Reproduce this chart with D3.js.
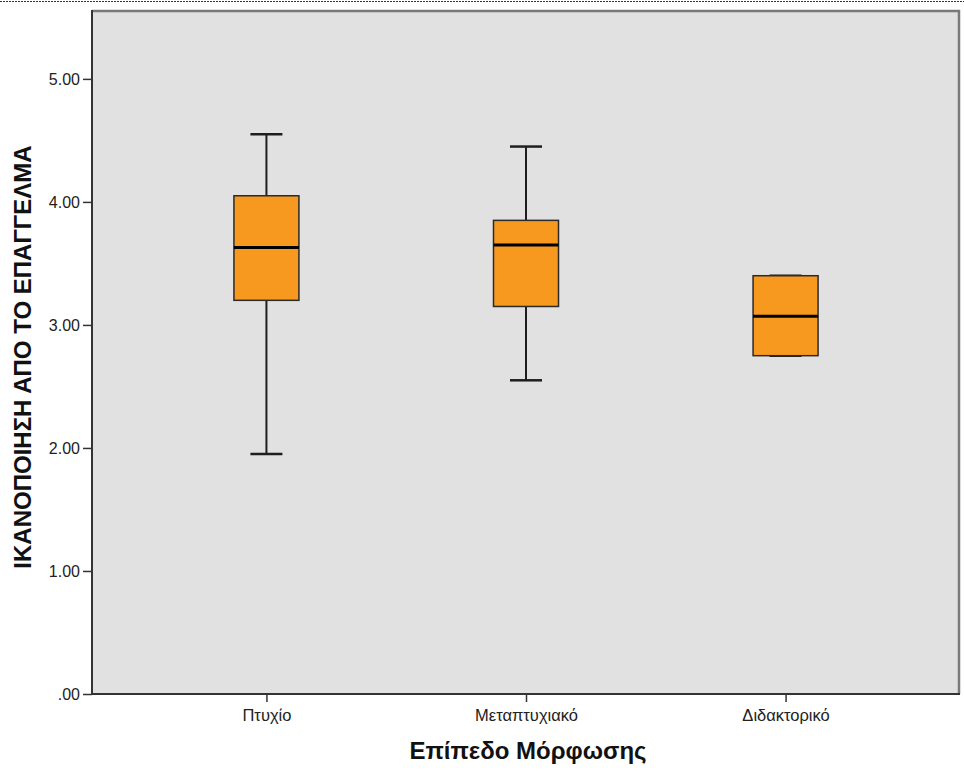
<!DOCTYPE html>
<html>
<head>
<meta charset="utf-8">
<script src="https://cdn.jsdelivr.net/npm/d3@7"></script>
<style>
  html, body { margin: 0; padding: 0; background: #ffffff; }
  svg { display: block; }
  text { font-family: Arial, "Liberation Sans", sans-serif; }
</style>
</head>
<body>
<svg id="chart" width="964" height="771"></svg>
<script>
// Education level categories and the five-number summary for each group
const categories = ["Πτυχίο", "Μεταπτυχιακό", "Διδακτορικό"];
const whiskerLow  = [1.95, 2.55, 2.75];
const q1          = [3.20, 3.15, 2.75];
const median      = [3.63, 3.65, 3.07];
const q3          = [4.05, 3.85, 3.40];
const whiskerHigh = [4.55, 4.45, 3.40];

const yTicks = [0, 1, 2, 3, 4, 5];
const yDomainMax = 5.56;
const xTitle = "Επίπεδο Μόρφωσης";
const yTitle = "ΙΚΑΝΟΠΟΙΗΣΗ ΑΠΟ ΤΟ ΕΠΑΓΓΕΛΜΑ";

const svg = d3.select("#chart");
const plot = { left: 92, right: 960, top: 10, bottom: 694 };

const x = d3.scalePoint()
  .domain(categories)
  .range([plot.left, plot.right])
  .padding(0.672);

const y = d3.scaleLinear()
  .domain([0, yDomainMax])
  .range([plot.bottom, plot.top]);

const boxW = 65, capW = 32;

// dotted rule along the top of the page
svg.append("line")
  .attr("x1", 0).attr("x2", 964)
  .attr("y1", 1.5).attr("y2", 1.5)
  .attr("stroke", "#333")
  .attr("stroke-width", 1)
  .attr("stroke-dasharray", "2,1");

// plot background
svg.append("rect")
  .attr("x", plot.left).attr("y", plot.top)
  .attr("width", plot.right - plot.left)
  .attr("height", plot.bottom - plot.top)
  .attr("fill", "#e1e1e1");

// frame: top and right edges
svg.append("path")
  .attr("d", `M${plot.left},${plot.top + 1}H${plot.right - 1}V${plot.bottom}`)
  .attr("fill", "none")
  .attr("stroke", "#7a7a7a")
  .attr("stroke-width", 2.5);

const rows = categories.map((c, i) => ({
  cat: c, lo: whiskerLow[i], q1: q1[i], med: median[i], q3: q3[i], hi: whiskerHigh[i]
}));

const g = svg.append("g");

// whiskers
g.selectAll(".whisker")
  .data(rows)
  .join("line")
  .attr("x1", d => x(d.cat)).attr("x2", d => x(d.cat))
  .attr("y1", d => y(d.hi)).attr("y2", d => y(d.lo))
  .attr("stroke", "#1e1e1e").attr("stroke-width", 2);

// whisker caps
["lo", "hi"].forEach(k => {
  g.selectAll(".cap-" + k)
    .data(rows)
    .join("line")
    .attr("x1", d => x(d.cat) - capW / 2).attr("x2", d => x(d.cat) + capW / 2)
    .attr("y1", d => y(d[k])).attr("y2", d => y(d[k]))
    .attr("stroke", "#1e1e1e").attr("stroke-width", 2.5);
});

// boxes
g.selectAll(".box")
  .data(rows)
  .join("rect")
  .attr("x", d => x(d.cat) - boxW / 2)
  .attr("y", d => y(d.q3))
  .attr("width", boxW)
  .attr("height", d => y(d.q1) - y(d.q3))
  .attr("fill", "#f7991f")
  .attr("stroke", "#2a2a2a")
  .attr("stroke-width", 1.5);

// medians
g.selectAll(".median")
  .data(rows)
  .join("line")
  .attr("x1", d => x(d.cat) - boxW / 2).attr("x2", d => x(d.cat) + boxW / 2)
  .attr("y1", d => y(d.med)).attr("y2", d => y(d.med))
  .attr("stroke", "#000").attr("stroke-width", 3);

// y axis
const yAxis = svg.append("g")
  .attr("transform", `translate(${plot.left},0)`)
  .call(d3.axisLeft(y).tickValues(yTicks).tickSize(9).tickPadding(3)
    .tickFormat(d => d3.format(".2f")(d).replace(/^0\./, ".")));
yAxis.select(".domain").attr("stroke", "#333").attr("stroke-width", 2)
  .attr("d", `M0,${plot.top}V${plot.bottom}`);
yAxis.selectAll(".tick line").attr("stroke", "#333").attr("stroke-width", 1.5);
yAxis.selectAll(".tick text").attr("fill", "#222").style("font-size", "16px");

// x axis
const xAxis = svg.append("g")
  .attr("transform", `translate(0,${plot.bottom})`)
  .call(d3.axisBottom(x).tickSize(8).tickPadding(7));
xAxis.select(".domain").attr("stroke", "#333").attr("stroke-width", 2)
  .attr("d", `M${plot.left},0H${plot.right}`);
xAxis.selectAll(".tick line").attr("stroke", "#333").attr("stroke-width", 1.5);
xAxis.selectAll(".tick text").attr("fill", "#222").style("font-size", "16.5px");

// axis titles
svg.append("text")
  .attr("x", 528)
  .attr("y", 759)
  .attr("text-anchor", "middle")
  .style("font-size", "24px").style("font-weight", "bold")
  .attr("fill", "#111")
  .text(xTitle);

svg.append("text")
  .attr("transform", `translate(31,357) rotate(-90)`)
  .attr("text-anchor", "middle")
  .style("font-size", "24px").style("font-weight", "bold")
  .attr("fill", "#111")
  .text(yTitle);
</script>
</body>
</html>
